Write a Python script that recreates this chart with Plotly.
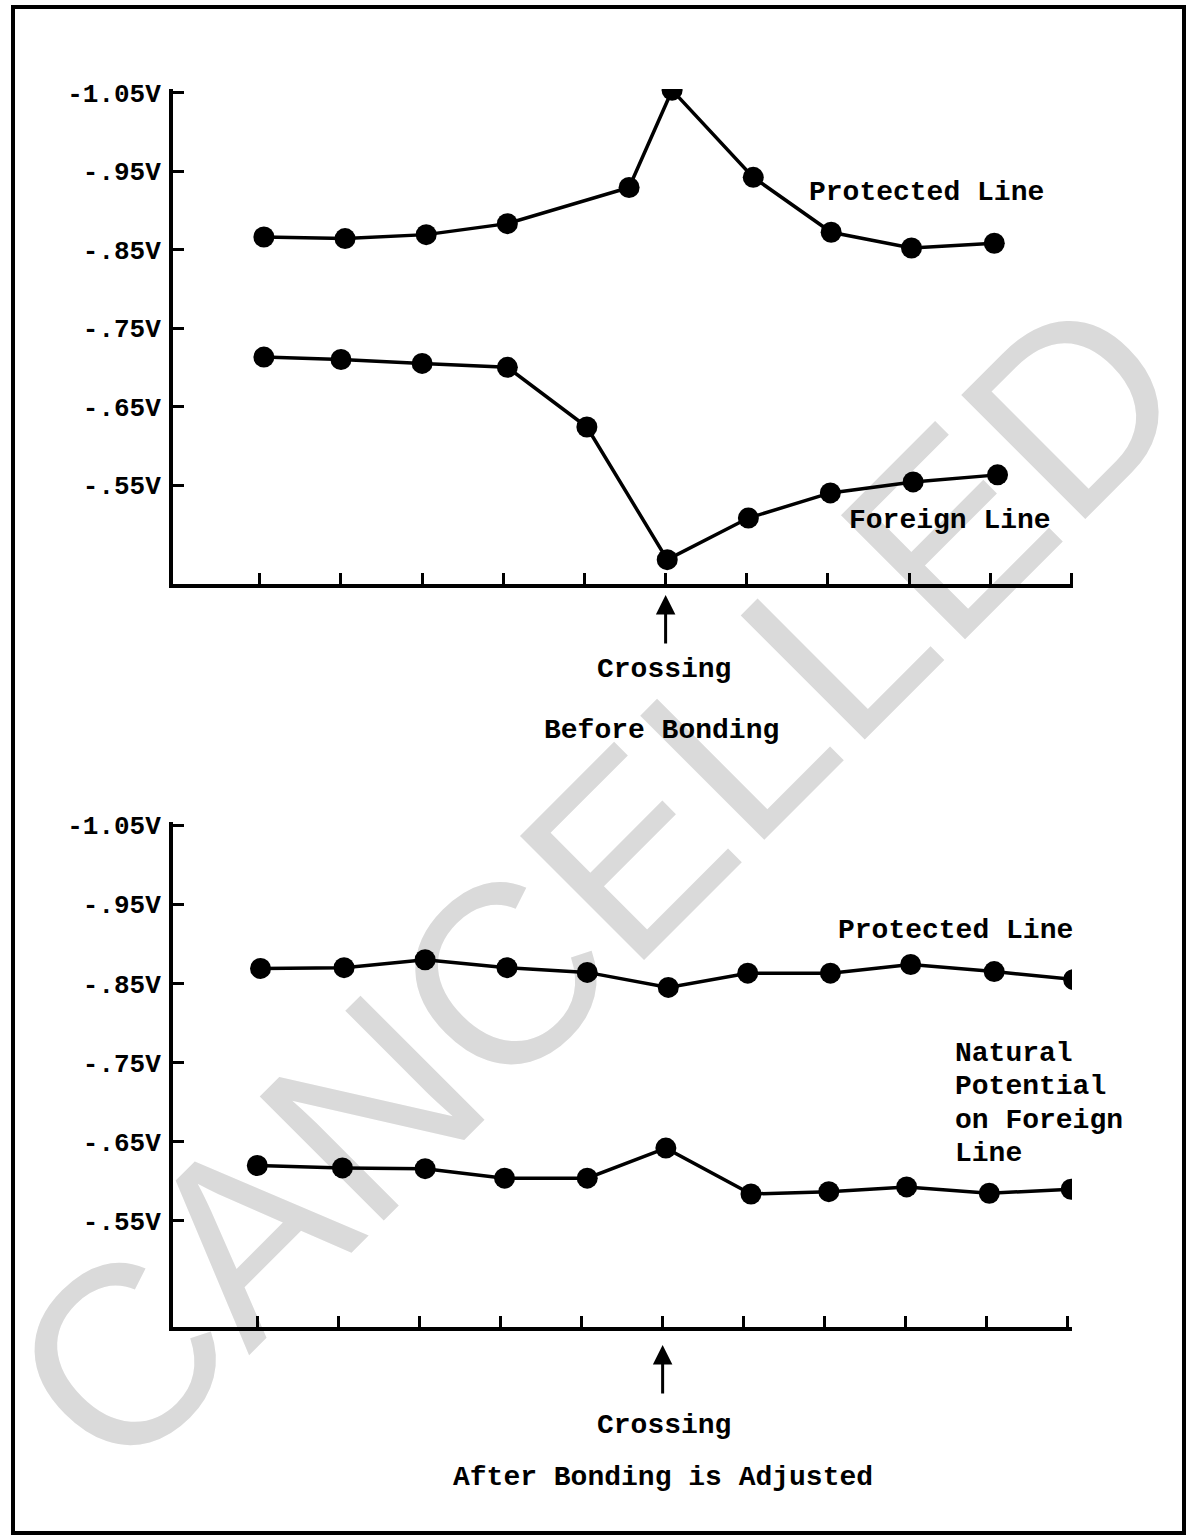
import plotly.graph_objects as go

# ---------------- data ----------------
# Top chart: "Before Bonding"
before_protected_x = [0.05, 1.05, 2.05, 3.05, 4.55, 5.08, 6.08, 7.04, 8.03, 9.05]
before_protected_v = [-0.866, -0.864, -0.869, -0.883, -0.929, -1.053, -0.942, -0.872, -0.852, -0.858]
before_foreign_x = [0.05, 1.0, 2.0, 3.05, 4.03, 5.02, 6.02, 7.03, 8.05, 9.09]
before_foreign_v = [-0.713, -0.710, -0.705, -0.700, -0.624, -0.455, -0.508, -0.540, -0.554, -0.563]

# Bottom chart: "After Bonding is Adjusted"
after_protected_x = [0.04, 1.07, 2.07, 3.08, 4.07, 5.07, 6.05, 7.07, 8.06, 9.09, 10.07]
after_protected_v = [-0.869, -0.870, -0.880, -0.870, -0.864, -0.845, -0.863, -0.863, -0.874, -0.865, -0.855]
after_foreign_x = [0.0, 1.05, 2.07, 3.05, 4.07, 5.04, 6.09, 7.05, 8.01, 9.03, 10.04]
after_foreign_v = [-0.620, -0.617, -0.616, -0.604, -0.604, -0.642, -0.584, -0.587, -0.593, -0.585, -0.590]

y_tick_vals = [-1.05, -0.95, -0.85, -0.75, -0.65, -0.55]
y_tick_text = ["-1.05V", "-.95V", "-.85V", "-.75V", "-.65V", "-.55V"]
x_tick_vals = [0, 1, 2, 3, 4, 5, 6, 7, 8, 9, 10]
crossing_x = 5

# ---------------- figure ----------------
W, H = 1187, 1536
FONT = "Liberation Mono"
BLACK = "#000000"

fig = go.Figure()

def add_series(x, y, xa, ya):
    fig.add_trace(go.Scatter(
        x=x, y=y, xaxis=xa, yaxis=ya, mode="lines+markers",
        line=dict(color=BLACK, width=3.5),
        marker=dict(color=BLACK, size=21),
        showlegend=False, hoverinfo="skip"))

add_series(before_protected_x, before_protected_v, "x", "y")
add_series(before_foreign_x, before_foreign_v, "x", "y")
add_series(after_protected_x, after_protected_v, "x2", "y2")
add_series(after_foreign_x, after_foreign_v, "x2", "y2")

def px(xp):
    return xp / W

def py(yp):
    return 1 - yp / H

xaxis_common = dict(
    showline=True, linecolor=BLACK, linewidth=4, showgrid=False, zeroline=False,
    ticks="inside", ticklen=11, tickwidth=3, tickcolor=BLACK,
    tickvals=x_tick_vals, showticklabels=False, fixedrange=True, automargin=False,
)
yaxis_common = dict(
    showline=True, linecolor=BLACK, linewidth=4, showgrid=False, zeroline=False,
    ticks="inside", ticklen=11, tickwidth=3, tickcolor=BLACK,
    tickvals=y_tick_vals, ticktext=y_tick_text,
    tickfont=dict(family=FONT, size=26, color=BLACK, weight="bold"),
    ticklabelstandoff=3, fixedrange=True, automargin=False,
)

fig.update_layout(
    width=W, height=H, autosize=False,
    margin=dict(l=0, r=0, t=0, b=0, pad=0, autoexpand=False),
    showlegend=False,
    paper_bgcolor="white", plot_bgcolor="rgba(0,0,0,0)",
    xaxis=dict(domain=[px(173), px(1073)], range=[-1.07, 10.02], anchor="y", **xaxis_common),
    yaxis=dict(domain=[py(584), py(89)], range=[-0.424, -1.0545], anchor="x", **yaxis_common),
    xaxis2=dict(domain=[px(173), px(1072)], range=[-1.04, 10.05], anchor="y2", **xaxis_common),
    yaxis2=dict(domain=[py(1327), py(822)], range=[-0.416, -1.054], anchor="x2", **yaxis_common),
)

# Watermark (behind everything)
wm_cx, wm_cy, wm_size = 580, 865, 255
fig.add_shape(
    type="rect", xref="paper", yref="paper",
    x0=px(wm_cx - 50), x1=px(wm_cx + 50), y0=py(wm_cy + 50), y1=py(wm_cy - 50),
    line=dict(width=0), fillcolor="rgba(0,0,0,0)", layer="below",
    label=dict(text="CANCELLED", textangle=-45, textposition="middle center",
               font=dict(family="Liberation Sans", size=wm_size, color="#dadada")),
)

# Page border
fig.add_shape(
    type="rect", xref="paper", yref="paper",
    x0=px(13), x1=px(1184), y0=py(1533), y1=py(7),
    line=dict(color=BLACK, width=4), fillcolor="rgba(0,0,0,0)", layer="above",
)

def text(t, xp, yp, xanchor="center", size=28):
    fig.add_annotation(
        text=t, xref="paper", yref="paper", x=px(xp), y=py(yp),
        xanchor=xanchor, yanchor="middle", showarrow=False,
        font=dict(family=FONT, size=size, color=BLACK, weight="bold"))

text("Protected Line", 926, 193)
text("Foreign Line", 950, 520)
text("Crossing", 664, 669)
text("Before Bonding", 661, 730)
text("Protected Line", 955, 930)
for i, line in enumerate(["Natural", "Potential", "on Foreign", "Line"]):
    text(line, 953, 1053 + i * 33.5, xanchor="left")
text("Crossing", 664, 1425)
text("After Bonding is Adjusted", 663, 1477)

# Crossing arrows
fig.add_annotation(
    x=crossing_x, y=py(595), xref="x", yref="paper", ax=0, ay=50, axref="pixel", ayref="pixel",
    text="", showarrow=True, arrowhead=2, arrowsize=1.3, arrowwidth=3, arrowcolor=BLACK)
fig.add_annotation(
    x=crossing_x, y=py(1345), xref="x2", yref="paper", ax=0, ay=50, axref="pixel", ayref="pixel",
    text="", showarrow=True, arrowhead=2, arrowsize=1.3, arrowwidth=3, arrowcolor=BLACK)

fig.write_html(
    "out.html",
    config={"displayModeBar": False},
    post_script=(
        "document.documentElement.style.margin='0';"
        "document.body.style.margin='0';document.body.style.padding='0';"
        "var gd=document.getElementById('{plot_id}');"
        "gd.style.position='absolute';gd.style.top='0px';gd.style.left='0px';"
    ),
)
